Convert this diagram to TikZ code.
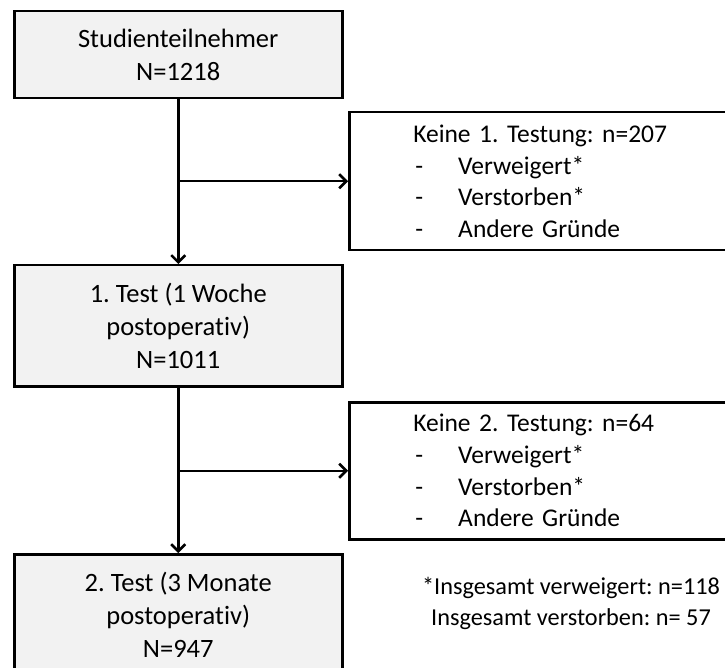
\documentclass[tikz,border=0pt]{standalone}
\usepackage{fontspec}
\setmainfont{Carlito}[Ligatures={NoCommon}]
\usetikzlibrary{arrows.meta}
\definecolor{boxgray}{HTML}{F2F2F2}
\frenchspacing
\begin{document}
\begin{tikzpicture}[x=1pt,y=-1pt,
  mainbox/.style={draw=black, line width=2.5pt, fill=boxgray, rectangle, anchor=north west,
    minimum width=328pt, align=center, inner sep=0pt, font=\fontsize{26.5}{33}\selectfont},
  sidebox/.style={draw=black, line width=2.5pt, fill=white, rectangle, anchor=north west,
    text width=326pt, inner xsep=32pt, inner ysep=0pt, align=left, font=\fontsize{25.5}{31.7}\selectfont},
  notetext/.style={align=center, inner sep=0pt, font=\fontsize{24.3}{31}\selectfont},
  conn/.style={line width=2.5pt, -{Straight Barb[length=7pt,width=14pt]}}]
\useasboundingbox (0,0) rectangle (725,668);
\clip (0,0) rectangle (725,668);
\node[mainbox, minimum height=87pt] (b1) at (13,10) {Studienteilnehmer\\N=1218};
\node[mainbox, minimum height=121pt] (b2) at (13,264) {1. Test (1 Woche\\postoperativ)\\N=1011};
\node[mainbox, minimum height=121pt] (b3) at (13,553) {2. Test (3 Monate\\postoperativ)\\N=947};
\node[sidebox, minimum height=138pt] (r1) at (348,111) {\hspace*{32pt}Keine 1. Testung: n=207\\
  \hspace*{34pt}\makebox[43pt][l]{-}Verweigert*\\
  \hspace*{34pt}\makebox[43pt][l]{-}Verstorben*\\
  \hspace*{34pt}\makebox[43pt][l]{-}Andere Gründe};
\node[sidebox, minimum height=137pt] (r2) at (348,401) {\hspace*{32pt}Keine 2. Testung: n=64\\
  \hspace*{34pt}\makebox[43pt][l]{-}Verweigert*\\
  \hspace*{34pt}\makebox[43pt][l]{-}Verstorben*\\
  \hspace*{34pt}\makebox[43pt][l]{-}Andere Gründe};
\node[notetext] (fn) at (571,603) {*Insgesamt verweigert: n=118\\Insgesamt verstorben: n= 57};
\coordinate (j1) at (b1.south |- r1.west);
\coordinate (j2) at (b2.south |- r2.west);
\draw[conn] (b1.south) -- (b2.north);
\draw[conn] (j1) -- (r1.west);
\draw[conn] (b2.south) -- (b3.north);
\draw[conn] (j2) -- (r2.west);
\end{tikzpicture}
\end{document}
